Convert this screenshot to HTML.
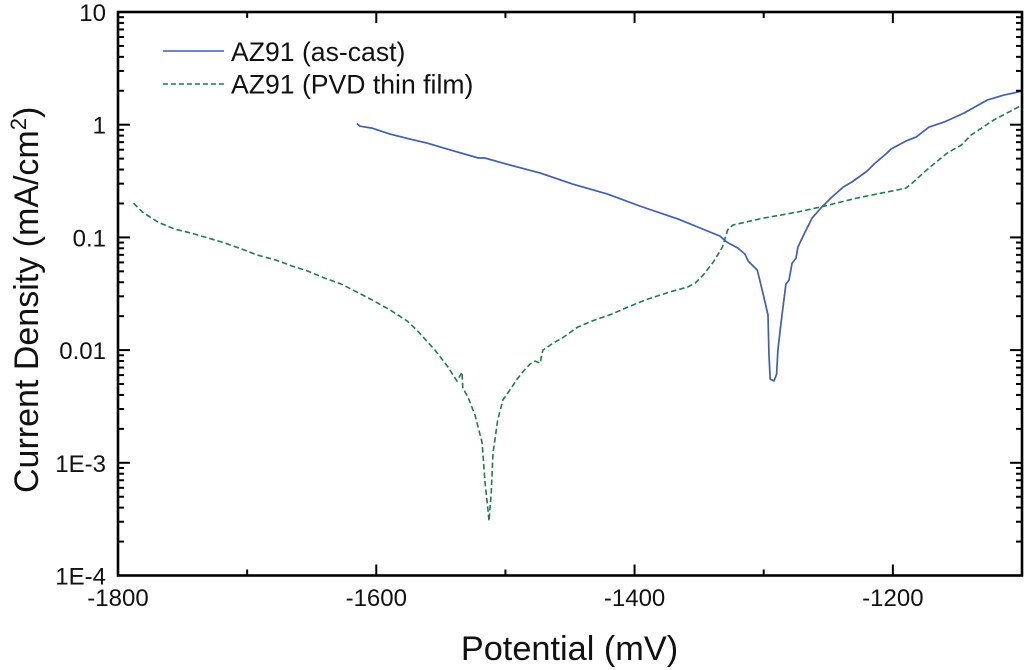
<!DOCTYPE html>
<html lang="en">
<head>
<meta charset="utf-8">
<title>Polarization curves</title>
<style>
html,body{margin:0;padding:0;background:#fff;width:1024px;height:670px;overflow:hidden}
svg{display:block;font-family:"Liberation Sans",Arial,sans-serif}
</style>
</head>
<body>
<svg id="chart" width="1024" height="670" viewBox="0 0 1024 670" xmlns="http://www.w3.org/2000/svg"></svg>
<script>
const potentialAsCast = [-1615,-1612.6,-1603.3,-1589.4,-1574,-1560.7,-1545,-1521,-1516,-1502,-1473,-1448,-1421,-1396,-1366,-1349,-1334,-1328.5,-1320,-1314.5,-1312,-1305,-1300.6,-1296.7,-1296,-1295,-1292,-1290,-1289,-1286.6,-1282.8,-1280.4,-1278,-1275,-1273.5,-1268,-1262.6,-1255,-1246.4,-1238.6,-1231.7,-1220,-1214.6,-1204.6,-1201.5,-1190,-1182,-1172,-1160.4,-1145,-1127,-1114,-1100];
const densityAsCast = [1.02,0.97,0.933,0.826,0.745,0.687,0.607,0.506,0.506,0.456,0.372,0.297,0.242,0.19,0.145,0.121,0.103,0.0908,0.0804,0.0711,0.0616,0.0513,0.0321,0.0205,0.0094,0.00553,0.00532,0.00612,0.01,0.0174,0.0385,0.0418,0.0592,0.0655,0.082,0.1114,0.148,0.186,0.232,0.279,0.31,0.387,0.447,0.56,0.607,0.715,0.776,0.953,1.054,1.267,1.653,1.83,1.986];
const potentialPvd = [-1788,-1781,-1775,-1769,-1756,-1743,-1730,-1717,-1704,-1692,-1678,-1665,-1653,-1640,-1627,-1615,-1603,-1589,-1576,-1568.5,-1554.5,-1544.5,-1537.5,-1533.6,-1533,-1529,-1523.6,-1518,-1516,-1513.5,-1512.7,-1511,-1509.6,-1506,-1502,-1495,-1491,-1486,-1481,-1477,-1473,-1472,-1471,-1463,-1456,-1444,-1431,-1417.5,-1405,-1392,-1373,-1359,-1353,-1347,-1339,-1332,-1328,-1324,-1300.6,-1274,-1253,-1228,-1190,-1185,-1174,-1158,-1147,-1139.5,-1122,-1100];
const densityPvd = [0.201,0.1677,0.151,0.1367,0.1185,0.109,0.0986,0.089,0.0787,0.0697,0.063,0.0556,0.0502,0.0435,0.0385,0.0327,0.0278,0.0226,0.0181,0.015,0.01,0.00706,0.00532,0.00638,0.0046,0.00383,0.00265,0.0015,0.000703,0.00038,0.000304,0.000538,0.00122,0.00239,0.0036,0.0047,0.00553,0.00651,0.00752,0.00798,0.00767,0.00903,0.01,0.01153,0.0128,0.016,0.01845,0.0209,0.0241,0.0278,0.0327,0.0362,0.0393,0.0462,0.0604,0.082,0.116,0.1285,0.148,0.1677,0.1897,0.2234,0.2735,0.303,0.395,0.56,0.659,0.809,1.099,1.493];
const xMajorTicks = [-1800,-1600,-1400,-1200];
const xMinorTicks = [-1700,-1500,-1300,-1100];
const yDecades = [0.0001,0.001,0.01,0.1,1,10];
const yTickLabels = ["1E-4","1E-3","0.01","0.1","1","10"];
const yMinorMultipliers = [2,3,4,5,6,7,8,9];

const svg = document.getElementById('chart');
const NS = 'http://www.w3.org/2000/svg';
const plot = {left:118, right:1022, top:12, bottom:575.5};
const xMin = -1800, xMax = -1100, yMin = 0.0001, yMax = 10;

function xScale(v){ return plot.left + (v - xMin) / (xMax - xMin) * (plot.right - plot.left); }
function yScale(v){ return plot.bottom - (Math.log10(v) - Math.log10(yMin)) / (Math.log10(yMax) - Math.log10(yMin)) * (plot.bottom - plot.top); }
function make(tag, attrs, parent){
  const el = document.createElementNS(NS, tag);
  for (const k in attrs) el.setAttribute(k, attrs[k]);
  (parent || svg).appendChild(el);
  return el;
}
function tick(x1,y1,x2,y2,w){
  const el = make('line',{x1:x1,y1:y1,x2:x2,y2:y2,stroke:'#000','stroke-width':w});
  
  
}
function tickLabel(x,y,anchor,txt,name){
  const el = make('text',{x:x,y:y,'text-anchor':anchor,'font-size':24,fill:'#111'});
  el.textContent = txt;
  
  
}
function seriesPath(xs,ys){
  return xs.map((v,i)=>(i?'L':'M')+xScale(v).toFixed(1)+' '+yScale(ys[i]).toFixed(1)).join('');
}

/* series */
const asCast = make('path',{d:seriesPath(potentialAsCast,densityAsCast),fill:'none',stroke:'#3f5fb5','stroke-width':1.7,'stroke-linejoin':'round'});


const pvd = make('path',{d:seriesPath(potentialPvd,densityPvd),fill:'none',stroke:'#1f7a50','stroke-width':1.6,'stroke-dasharray':'5.5 3'});



/* frame */
const frame = make('rect',{x:plot.left,y:plot.top,width:plot.right-plot.left,height:plot.bottom-plot.top,fill:'none',stroke:'#000','stroke-width':2.6});



/* x ticks */
xMajorTicks.forEach(v=>{
  const x = xScale(v);
  tick(x,plot.bottom,x,plot.bottom-11,2);
  tick(x,plot.top,x,plot.top+11,2);
  tickLabel(x,606,'middle',String(v),'x-tick-label');
});
xMinorTicks.forEach(v=>{
  const x = xScale(v);
  tick(x,plot.bottom,x,plot.bottom-6,2);
  tick(x,plot.top,x,plot.top+6,2);
});

/* y ticks */
yDecades.forEach((d,i)=>{
  const y = yScale(d);
  tick(plot.left,y,plot.left+12,y,2);
  tick(plot.right,y,plot.right-12,y,2);
  tickLabel(106,y+9,'end',yTickLabels[i],'y-tick-label');
  if (d < yMax) yMinorMultipliers.forEach(m=>{
    const ym = yScale(d*m);
    tick(plot.left,ym,plot.left+6,ym,2);
    tick(plot.right,ym,plot.right-6,ym,2);
  });
});
</script>
<script>
(function(){
  const s = document.getElementById('chart');
  s.insertAdjacentHTML('beforeend', `
  <g>
    <line x1="163" y1="51" x2="224" y2="51" stroke="#3f5fb5" stroke-width="1.4"/>
    <text x="231" y="61" font-size="26.6" fill="#111">AZ91 (as-cast)</text>
    <line x1="163" y1="84" x2="224" y2="84" stroke="#1f7a50" stroke-width="1.4" stroke-dasharray="5 3"/>
    <text x="231" y="93.5" font-size="26.6" fill="#111">AZ91 (PVD thin film)</text>
  </g>
  <text x="569.5" y="660" text-anchor="middle" font-size="34.3" fill="#111">Potential (mV)</text>
  <text transform="translate(38,493) rotate(-90)" font-size="34" fill="#111">Current Density (mA/cm<tspan font-size="22" dy="-12">2</tspan><tspan dy="12">)</tspan></text>
  `);
})();
</script>
</body>
</html>
